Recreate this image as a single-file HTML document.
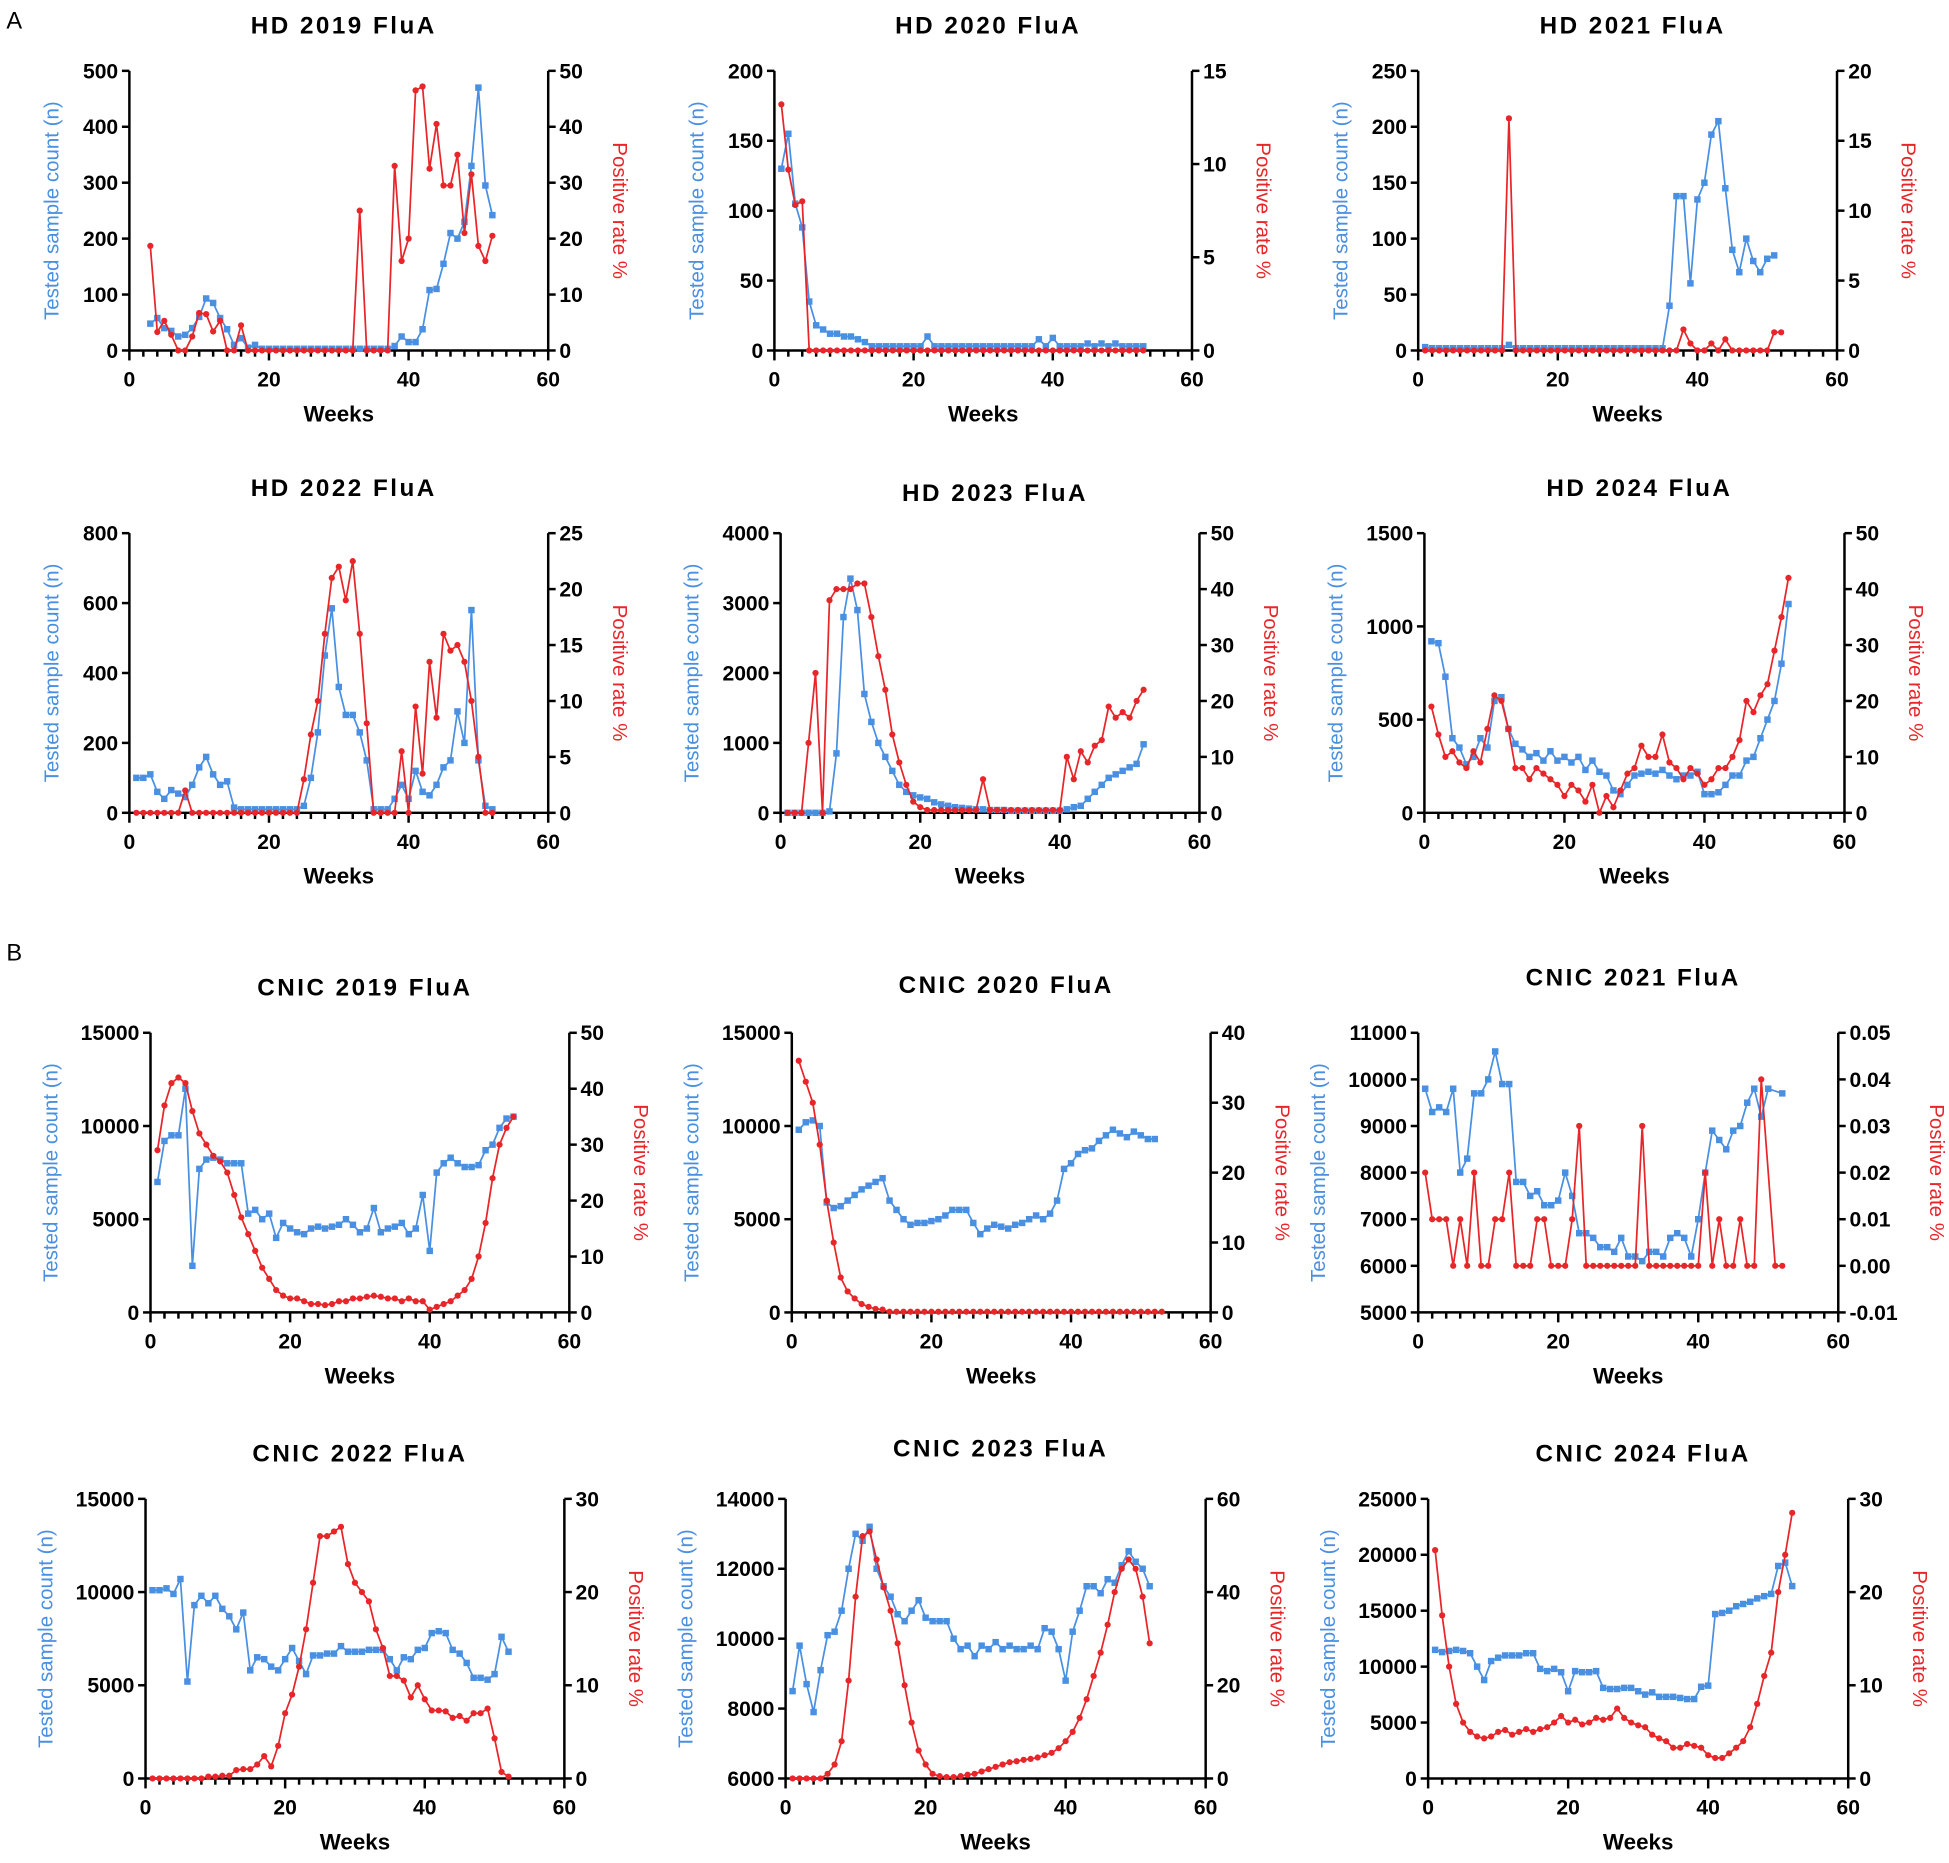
<!DOCTYPE html>
<html><head><meta charset="utf-8"><style>
html,body{margin:0;padding:0;background:#fff;}
svg{display:block;}
</style></head><body>
<svg id="s" width="1949" height="1863" viewBox="0 0 1568 1499" xmlns="http://www.w3.org/2000/svg" font-family="Liberation Sans, Arial, sans-serif"></svg>
<script>
const B="#4a90e2",R="#e8262a";
function seq(start,arr){return arr.map((v,i)=>[start+i,v]);}
const P=[
{t:"HD 2019 FluA",x0:104,x1:441,y0:57,y1:282,ty:27,L:[0,500,100],Rr:[0,50,10],
 b:seq(3,[48,58,40,35,25,28,40,60,93,85,58,38,10,22,5,10,3,3,3,3,3,3,3,3,3,3,3,3,3,3,3,3,3,3,3,8,25,15,15,38,108,110,155,210,200,230,330,470,295,242]),
 r:seq(3,[18.7,3.3,5.3,2.8,0,0,2.5,6.7,6.5,3.4,5.3,0,0,4.5,0,0,0,0,0,0,0,0,0,0,0,0,0,0,0,0,25,0,0,0,0,33,16,20,46.5,47.2,32.5,40.5,29.5,29.5,35,21,31.5,18.7,16,20.5])},
{t:"HD 2020 FluA",x0:623,x1:959,y0:57,y1:282,ty:27,L:[0,200,50],Rr:[0,15,5],
 b:seq(1,[130,155,105,88,35,18,15,12,12,10,10,8,6,3,3,3,3,3,3,3,3,10,3,3,3,3,3,3,3,3,3,3,3,3,3,3,3,8,3,9,3,3,3,3,5,3,5,3,5,3,3,3,3]),
 r:seq(1,[13.2,9.7,7.8,8,0].concat(Array(48).fill(0)))},
{t:"HD 2021 FluA",x0:1141,x1:1478,y0:57,y1:282,ty:27,L:[0,250,50],Rr:[0,20,5],
 b:seq(1,[3,2,2,2,2,2,2,2,2,2,2,2,5,2,2,2,2,2,2,2,2,2,2,2,2,2,2,2,2,2,2,2,2,2,2,40,138,138,60,135,150,193,205,145,90,70,100,80,70,82,85]),
 r:seq(1,[0,0,0,0,0,0,0,0,0,0,0,0,16.6,0,0,0,0,0,0,0,0,0,0,0,0,0,0,0,0,0,0,0,0,0,0,0,0,1.5,0.5,0,0,0.5,0,0.8,0,0,0,0,0,0,1.3,1.3])},
{t:"HD 2022 FluA",x0:104,x1:441,y0:429,y1:654,ty:399,L:[0,800,200],Rr:[0,25,5],
 b:seq(1,[100,100,110,60,40,65,55,45,80,130,160,110,80,90,15,10,10,10,10,10,10,10,10,10,20,100,230,450,585,360,280,280,230,150,10,10,10,40,80,40,120,60,50,80,130,150,290,200,580,150,20,10]),
 r:seq(1,[0,0,0,0,0,0,0,2,0,0,0,0,0,0,0,0,0,0,0,0,0,0,0,0,3,7,10,16,21,22,19,22.5,16,8,0,0,0,0,5.5,0,9.5,3.5,13.5,8.5,16,14.5,15,13.5,10,5,0,0])},
{t:"HD 2023 FluA",x0:628,x1:965,y0:429,y1:654,ty:403,L:[0,4000,1000],Rr:[0,50,10],
 b:seq(1,[0,0,0,0,0,0,20,850,2800,3350,2900,1700,1300,1000,800,600,400,300,250,220,200,150,120,100,80,70,60,50,50,40,40,40,30,30,30,30,30,30,30,30,50,80,100,200,300,400,500,550,600,650,700,980]),
 r:seq(1,[0,0,0,12.5,25,0,38,40,40,40,41,41,35,28,22,14,9,5,2,1,0.5,0.5,0.5,0.5,0.5,0.5,0.5,0.5,6,0.5,0.5,0.5,0.5,0.5,0.5,0.5,0.5,0.5,0.5,0.5,10,6,11,9,12,13,19,17,18,17,20,22])},
{t:"HD 2024 FluA",x0:1146,x1:1484,y0:429,y1:654,ty:399,L:[0,1500,500],Rr:[0,50,10],
 b:seq(1,[920,910,730,400,350,260,300,400,350,600,620,450,370,340,300,320,280,330,280,300,270,300,230,280,220,200,120,100,150,200,210,220,210,230,200,180,200,200,220,100,100,110,150,200,200,280,300,400,500,600,800,1120]),
 r:seq(1,[19,14,10,11,9,8,11,9,15,21,20,15,8,8,6,8,7,6,5,3,5,4,2,5,0,3,1,4,7,8,12,10,10,14,9,8,6,8,7,5,6,8,8,10,13,20,18,21,23,29,35,42])},
{t:"CNIC 2019 FluA",x0:121,x1:458,y0:831,y1:1056,ty:801,L:[0,15000,5000],Rr:[0,50,10],
 b:seq(1,[7000,9200,9500,9500,12000,2500,7700,8200,8300,8200,8000,8000,8000,5300,5500,5000,5300,4000,4800,4500,4300,4200,4500,4600,4500,4600,4700,5000,4700,4300,4500,5600,4300,4500,4600,4800,4200,4500,6300,3300,7500,8000,8300,8000,7800,7800,7900,8700,9000,9900,10400,10500]),
 r:seq(1,[29,37,41,42,41,36,32,30,28,27,25,21,17,14,11,8,6,4,3,2.5,2.5,2,1.5,1.5,1.3,1.5,2,2,2.5,2.5,2.8,3,2.8,2.5,2.5,2,2.5,2,2,0.5,1,1.5,2,3,4,6,10,16,24,30,33,35])},
{t:"CNIC 2020 FluA",x0:637,x1:974,y0:831,y1:1056,ty:799,L:[0,15000,5000],Rr:[0,40,10],
 b:seq(1,[9800,10200,10300,10000,5900,5600,5700,6000,6300,6600,6800,7000,7200,6000,5500,5000,4700,4800,4800,4900,5000,5200,5500,5500,5500,4800,4200,4500,4700,4600,4500,4700,4800,5000,5200,5000,5300,6000,7700,8000,8500,8700,8800,9200,9500,9800,9600,9400,9700,9500,9300,9300]),
 r:seq(1,[36,33,30,24,16,10,5,3,2,1.2,0.8,0.5,0.4].concat(Array(40).fill(0.1)))},
{t:"CNIC 2021 FluA",x0:1141,x1:1479,y0:831,y1:1056,ty:793,L:[5000,11000,1000],Rr:[-0.01,0.05,0.01],dec:2,rOff:74,
 b:seq(1,[9800,9300,9400,9300,9800,8000,8300,9700,9700,10000,10600,9900,9900,7800,7800,7500,7600,7300,7300,7400,8000,7500,6700,6700,6600,6400,6400,6300,6600,6200,6200,6100,6300,6300,6200,6600,6700,6600,6200,7000,8000,8900,8700,8500,8900,9000,9500,9800,9200,9800,9800,9700]).filter((p,i)=>i!==50),
 r:seq(1,[0.02,0.01,0.01,0.01,0,0.01,0,0.02,0,0,0.01,0.01,0.02,0,0,0,0.01,0.01,0,0,0,0.01,0.03,0,0,0,0,0,0,0,0,0.03,0,0,0,0,0,0,0,0,0.02,0,0.01,0,0,0.01,0,0,0.04,0.02,0,0]).filter(p=>p[0]!==50)},
{t:"CNIC 2022 FluA",x0:117,x1:454,y0:1206,y1:1431,ty:1176,L:[0,15000,5000],Rr:[0,30,10],
 b:seq(1,[10100,10100,10200,9900,10700,5200,9300,9800,9400,9800,9100,8700,8000,8900,5800,6500,6400,6000,5800,6400,7000,6300,5600,6600,6600,6700,6700,7100,6800,6800,6800,6900,6900,6900,6400,5800,6500,6400,6900,7000,7800,7900,7800,6900,6700,6200,5400,5400,5300,5600,7600,6800]),
 r:seq(1,[0,0,0,0,0,0,0,0,0.2,0.2,0.3,0.3,0.9,1,1,1.5,2.4,1.3,3.5,7,9,12,16,21,26,26,26.5,27,23,21,20,19,16,14,11,11,10.5,8.7,10,8.5,7.3,7.3,7.2,6.5,6.7,6.2,7,7,7.5,4.3,0.7,0.2])},
{t:"CNIC 2023 FluA",x0:632,x1:970,y0:1206,y1:1431,ty:1172,L:[6000,14000,2000],Rr:[0,60,20],
 b:seq(1,[8500,9800,8700,7900,9100,10100,10200,10800,12000,13000,12800,13200,12000,11500,11200,10700,10500,10800,11100,10600,10500,10500,10500,10000,9700,9800,9500,9800,9700,9900,9700,9800,9700,9700,9800,9700,10300,10200,9700,8800,10200,10800,11500,11500,11300,11700,11600,12100,12500,12200,12000,11500]),
 r:seq(1,[0,0,0,0,0,1,3,8,21,39,52,53,47,41,36,29,20,12,6,3,1,0.5,0.3,0.3,0.5,0.8,1,1.5,2,2.5,3,3.5,3.7,4,4.2,4.5,5,5.5,6.5,8,10,13,17,22,27,33,40,45,47,45,39,29])},
{t:"CNIC 2024 FluA",x0:1149,x1:1487,y0:1206,y1:1431,ty:1176,L:[0,25000,5000],Rr:[0,30,10],
 b:seq(1,[11500,11300,11400,11500,11400,11200,10000,8800,10500,10800,11000,11000,11000,11200,11200,9800,9600,9800,9500,7800,9600,9500,9500,9600,8100,8000,8000,8100,8100,7800,7500,7700,7300,7300,7300,7200,7100,7100,8200,8300,14700,14800,15000,15400,15600,15800,16100,16300,16500,19000,19300,17200]),
 r:seq(1,[24.5,17.5,12,8,6,5,4.5,4.3,4.5,5,5.2,4.7,5,5.3,5,5.3,5.5,6,6.7,6,6.3,5.8,6,6.5,6.3,6.5,7.5,6.5,6,5.7,5.5,4.7,4.3,4,3.3,3.3,3.7,3.5,3.3,2.5,2.2,2.2,2.7,3.3,4,5.5,8,11,13.5,20,24,28.5])}
];
let o='<rect width="1568" height="1499" fill="#fff"/>';
o+='<text x="5" y="23" font-size="19">A</text><text x="5" y="773" font-size="19">B</text>';
for(const p of P){
 const X=w=>p.x0+(p.x1-p.x0)*w/60;
 const YL=v=>p.y1-(p.y1-p.y0)*(v-p.L[0])/(p.L[1]-p.L[0]);
 const YR=v=>p.y1-(p.y1-p.y0)*(v-p.Rr[0])/(p.Rr[1]-p.Rr[0]);
 const cx=(p.x0+p.x1)/2;
 o+=`<text x="${cx+4}" y="${p.ty}" font-size="19.5" font-weight="bold" text-anchor="middle" letter-spacing="2">${p.t}</text>`;
 o+=`<g stroke="#000" stroke-width="2" fill="none"><path d="M${p.x0},${p.y0}V${p.y1}H${p.x1}M${p.x1},${p.y0}V${p.y1}"/>`;
 for(let w=0;w<=60;w+=2){const l=w%20==0?8:5;o+=`<path d="M${X(w)},${p.y1}v${l}"/>`;}
 let lc=0,rc=0;
 for(let v=p.L[0];v<=p.L[1]+1e-9;v+=p.L[2]){o+=`<path d="M${p.x0},${YL(v)}h-6"/>`;}
 for(let v=p.Rr[0];v<=p.Rr[1]+1e-9;v+=p.Rr[2]){o+=`<path d="M${p.x1},${YR(v)}h6"/>`;}
 o+='</g><g font-size="17" font-weight="bold">';
 for(let v=p.L[0];v<=p.L[1]+1e-9;v+=p.L[2]){const s=String(Math.round(v));lc=Math.max(lc,s.length);o+=`<text x="${p.x0-9}" y="${YL(v)+6}" text-anchor="end">${s}</text>`;}
 for(let v=p.Rr[0];v<=p.Rr[1]+1e-9;v+=p.Rr[2]){const s=p.dec?v.toFixed(2):String(Math.round(v));rc=Math.max(rc,s.length);o+=`<text x="${p.x1+9}" y="${YR(v)+6}">${s}</text>`;}
 for(let w=0;w<=60;w+=20)o+=`<text x="${X(w)}" y="${p.y1+29}" text-anchor="middle">${w}</text>`;
 o+=`<text x="${cx}" y="${p.y1+57}" text-anchor="middle" font-size="18">Weeks</text></g>`;
 const ly=(p.y0+p.y1)/2, lx=p.x0-30-lc*9, rx=p.x1+(p.rOff||(34+rc*9));
 o+=`<text transform="translate(${lx},${ly}) rotate(-90)" text-anchor="middle" font-size="16.5" fill="${B}">Tested sample count (n)</text>`;
 o+=`<text transform="translate(${rx},${ly}) rotate(90)" text-anchor="middle" font-size="16.5" fill="${R}">Positive rate %</text>`;
 const bp=p.b.map(q=>[X(q[0]),YL(q[1])]), rp=p.r.map(q=>[X(q[0]),YR(q[1])]);
 o+=`<polyline points="${bp.map(q=>q.join(',')).join(' ')}" fill="none" stroke="${B}" stroke-width="1.4"/>`;
 o+=`<g fill="${B}">`+bp.map(q=>`<rect x="${q[0]-2.6}" y="${q[1]-2.6}" width="5.2" height="5.2"/>`).join('')+'</g>';
 o+=`<polyline points="${rp.map(q=>q.join(',')).join(' ')}" fill="none" stroke="${R}" stroke-width="1.4"/>`;
 o+=`<g fill="${R}">`+rp.map(q=>`<circle cx="${q[0]}" cy="${q[1]}" r="2.5"/>`).join('')+'</g>';
}
document.getElementById('s').innerHTML=o;
</script>
</body></html>
